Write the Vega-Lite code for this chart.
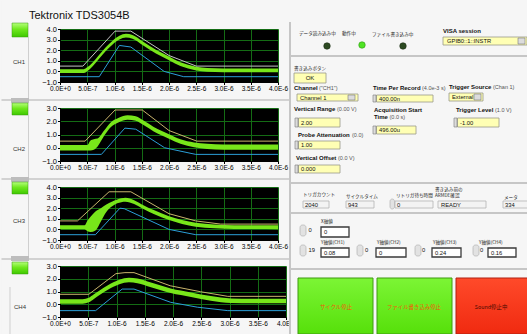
{
  "$schema": "https://vega.github.io/schema/vega-lite/v6.json",
  "background": "#f6f6f6",
  "padding": 0,
  "spacing": 26,
  "bounds": "flush",
  "config": {
    "view": {"stroke": null},
    "axis": {"labelFont": "Liberation Sans", "labelFontSize": 6.5, "labelColor": "#000000", "tickColor": "#000000", "tickSize": 2.5, "labelPadding": 1, "domainColor": "#000000", "gridColor": "#146c14", "gridOpacity": 1, "gridWidth": 1, "labelFlush": false, "labelOverlap": false, "grid": true},
    "axisY": {"labelFontSize": 7.5}
  },
  "datasets": {
    "traces": [
      {"ch":"CH1","s":"u","t":0,"v":0.5},{"ch":"CH1","s":"u","t":0.42,"v":0.5},{"ch":"CH1","s":"u","t":1.01,"v":3.8},{"ch":"CH1","s":"u","t":1.3,"v":3.8},{"ch":"CH1","s":"u","t":2.0,"v":1.5},{"ch":"CH1","s":"u","t":2.5,"v":0.5},{"ch":"CH1","s":"u","t":4,"v":0.5},
      {"ch":"CH1","s":"l","t":0,"v":-0.5},{"ch":"CH1","s":"l","t":0.72,"v":-0.5},{"ch":"CH1","s":"l","t":1.09,"v":2.45},{"ch":"CH1","s":"l","t":1.3,"v":2.3},{"ch":"CH1","s":"l","t":1.91,"v":0.0},{"ch":"CH1","s":"l","t":2.27,"v":-0.5},{"ch":"CH1","s":"l","t":4,"v":-0.5},
      {"ch":"CH1","s":"g","t":0,"v":-0.15,"v2":0.21},{"ch":"CH1","s":"g","t":0.44,"v":-0.15,"v2":0.21},{"ch":"CH1","s":"g","t":0.5,"v":0.02,"v2":0.38},{"ch":"CH1","s":"g","t":0.6,"v":0.49,"v2":0.85},{"ch":"CH1","s":"g","t":0.72,"v":1.21,"v2":1.57},{"ch":"CH1","s":"g","t":0.84,"v":1.93,"v2":2.29},{"ch":"CH1","s":"g","t":0.97,"v":2.56,"v2":2.92},{"ch":"CH1","s":"g","t":1.09,"v":3.0,"v2":3.36},{"ch":"CH1","s":"g","t":1.21,"v":3.19,"v2":3.55},{"ch":"CH1","s":"g","t":1.33,"v":3.07,"v2":3.43},{"ch":"CH1","s":"g","t":1.52,"v":2.47,"v2":2.83},{"ch":"CH1","s":"g","t":1.76,"v":1.68,"v2":2.04},{"ch":"CH1","s":"g","t":2.01,"v":1.02,"v2":1.38},{"ch":"CH1","s":"g","t":2.21,"v":0.5,"v2":0.86},{"ch":"CH1","s":"g","t":2.35,"v":0.27,"v2":0.63},{"ch":"CH1","s":"g","t":2.5,"v":0.09,"v2":0.45},{"ch":"CH1","s":"g","t":2.7,"v":-0.04,"v2":0.32},{"ch":"CH1","s":"g","t":3.0,"v":-0.08,"v2":0.28},{"ch":"CH1","s":"g","t":4.0,"v":-0.08,"v2":0.28},
      {"ch":"CH2","s":"u","t":0,"v":0.5},{"ch":"CH2","s":"u","t":0.46,"v":0.5},{"ch":"CH2","s":"u","t":1.01,"v":2.85},{"ch":"CH2","s":"u","t":1.51,"v":2.85},{"ch":"CH2","s":"u","t":2.0,"v":1.3},{"ch":"CH2","s":"u","t":2.51,"v":0.5},{"ch":"CH2","s":"u","t":4,"v":0.5},
      {"ch":"CH2","s":"l","t":0,"v":-0.5},{"ch":"CH2","s":"l","t":0.76,"v":-0.5},{"ch":"CH2","s":"l","t":1.19,"v":1.48},{"ch":"CH2","s":"l","t":1.39,"v":1.4},{"ch":"CH2","s":"l","t":1.92,"v":0.0},{"ch":"CH2","s":"l","t":2.49,"v":-0.5},{"ch":"CH2","s":"l","t":4,"v":-0.5},
      {"ch":"CH2","s":"g","t":0,"v":-0.2,"v2":0.2},{"ch":"CH2","s":"g","t":0.5,"v":-0.2,"v2":0.2},{"ch":"CH2","s":"g","t":0.56,"v":-0.2,"v2":0.55},{"ch":"CH2","s":"g","t":0.62,"v":-0.15,"v2":0.65},{"ch":"CH2","s":"g","t":0.69,"v":0.1,"v2":0.7},{"ch":"CH2","s":"g","t":0.81,"v":0.9,"v2":1.3},{"ch":"CH2","s":"g","t":0.93,"v":1.55,"v2":1.91},{"ch":"CH2","s":"g","t":1.08,"v":1.93,"v2":2.27},{"ch":"CH2","s":"g","t":1.24,"v":2.12,"v2":2.46},{"ch":"CH2","s":"g","t":1.39,"v":2.03,"v2":2.37},{"ch":"CH2","s":"g","t":1.54,"v":1.69,"v2":2.03},{"ch":"CH2","s":"g","t":1.72,"v":1.23,"v2":1.57},{"ch":"CH2","s":"g","t":2.0,"v":0.68,"v2":1.02},{"ch":"CH2","s":"g","t":2.21,"v":0.3,"v2":0.64},{"ch":"CH2","s":"g","t":2.46,"v":0.04,"v2":0.4},{"ch":"CH2","s":"g","t":2.7,"v":-0.1,"v2":0.3},{"ch":"CH2","s":"g","t":3.0,"v":-0.15,"v2":0.25},{"ch":"CH2","s":"g","t":4.0,"v":-0.15,"v2":0.25},
      {"ch":"CH3","s":"u","t":0,"v":0.8},{"ch":"CH3","s":"u","t":0.32,"v":0.8},{"ch":"CH3","s":"u","t":0.9,"v":3.55},{"ch":"CH3","s":"u","t":1.3,"v":3.55},{"ch":"CH3","s":"u","t":2.0,"v":1.48},{"ch":"CH3","s":"u","t":2.49,"v":0.8},{"ch":"CH3","s":"u","t":2.95,"v":0.5},{"ch":"CH3","s":"u","t":4,"v":0.5},
      {"ch":"CH3","s":"l","t":0,"v":-0.5},{"ch":"CH3","s":"l","t":0.65,"v":-0.5},{"ch":"CH3","s":"l","t":1.1,"v":2.0},{"ch":"CH3","s":"l","t":1.18,"v":1.95},{"ch":"CH3","s":"l","t":2.0,"v":0.0},{"ch":"CH3","s":"l","t":2.49,"v":-0.5},{"ch":"CH3","s":"l","t":4,"v":-0.5},
      {"ch":"CH3","s":"g","t":0,"v":0.02,"v2":0.38},{"ch":"CH3","s":"g","t":0.45,"v":0.02,"v2":0.38},{"ch":"CH3","s":"g","t":0.5,"v":-0.15,"v2":0.8},{"ch":"CH3","s":"g","t":0.56,"v":-0.25,"v2":1.2},{"ch":"CH3","s":"g","t":0.65,"v":-0.1,"v2":1.7},{"ch":"CH3","s":"g","t":0.75,"v":0.75,"v2":2.0},{"ch":"CH3","s":"g","t":0.85,"v":1.65,"v2":2.35},{"ch":"CH3","s":"g","t":0.95,"v":2.15,"v2":2.6},{"ch":"CH3","s":"g","t":1.05,"v":2.46,"v2":2.82},{"ch":"CH3","s":"g","t":1.2,"v":2.62,"v2":2.98},{"ch":"CH3","s":"g","t":1.36,"v":2.4,"v2":2.76},{"ch":"CH3","s":"g","t":1.54,"v":1.9,"v2":2.26},{"ch":"CH3","s":"g","t":1.72,"v":1.46,"v2":1.82},{"ch":"CH3","s":"g","t":2.0,"v":0.89,"v2":1.25},{"ch":"CH3","s":"g","t":2.24,"v":0.52,"v2":0.88},{"ch":"CH3","s":"g","t":2.49,"v":0.26,"v2":0.62},{"ch":"CH3","s":"g","t":2.83,"v":0.1,"v2":0.46},{"ch":"CH3","s":"g","t":3.2,"v":0.04,"v2":0.4},{"ch":"CH3","s":"g","t":4.0,"v":0.02,"v2":0.38},
      {"ch":"CH4","s":"u","t":0,"v":0.78},{"ch":"CH4","s":"u","t":0.51,"v":0.78},{"ch":"CH4","s":"u","t":0.99,"v":2.4},{"ch":"CH4","s":"u","t":1.15,"v":2.48},{"ch":"CH4","s":"u","t":1.31,"v":2.48},{"ch":"CH4","s":"u","t":1.95,"v":1.45},{"ch":"CH4","s":"u","t":2.49,"v":0.98},{"ch":"CH4","s":"u","t":2.97,"v":0.62},{"ch":"CH4","s":"u","t":4,"v":0.62},
      {"ch":"CH4","s":"l","t":0,"v":-0.5},{"ch":"CH4","s":"l","t":0.63,"v":-0.5},{"ch":"CH4","s":"l","t":1.1,"v":1.19},{"ch":"CH4","s":"l","t":1.31,"v":1.19},{"ch":"CH4","s":"l","t":1.96,"v":0.15},{"ch":"CH4","s":"l","t":2.43,"v":-0.23},{"ch":"CH4","s":"l","t":2.97,"v":-0.5},{"ch":"CH4","s":"l","t":4,"v":-0.5},
      {"ch":"CH4","s":"g","t":0,"v":0.04,"v2":0.4},{"ch":"CH4","s":"g","t":0.4,"v":0.04,"v2":0.4},{"ch":"CH4","s":"g","t":0.51,"v":0.15,"v2":0.51},{"ch":"CH4","s":"g","t":0.6,"v":0.42,"v2":0.78},{"ch":"CH4","s":"g","t":0.84,"v":1.12,"v2":1.48},{"ch":"CH4","s":"g","t":1.05,"v":1.57,"v2":1.93},{"ch":"CH4","s":"g","t":1.22,"v":1.72,"v2":2.08},{"ch":"CH4","s":"g","t":1.37,"v":1.65,"v2":2.01},{"ch":"CH4","s":"g","t":1.61,"v":1.34,"v2":1.7},{"ch":"CH4","s":"g","t":1.96,"v":0.88,"v2":1.24},{"ch":"CH4","s":"g","t":2.32,"v":0.57,"v2":0.93},{"ch":"CH4","s":"g","t":2.67,"v":0.28,"v2":0.64},{"ch":"CH4","s":"g","t":3.03,"v":0.1,"v2":0.46},{"ch":"CH4","s":"g","t":3.4,"v":0.07,"v2":0.43},{"ch":"CH4","s":"g","t":4.0,"v":0.07,"v2":0.43}
    ],
    "deco": [
      {"k":"bg","x":0.4,"x2":527,"y":0.4,"y2":334},
      {"k":"title","x":28,"y":18.5,"label":"Tektronix  TDS3054B"},
      {"k":"sep","x":0.5,"x2":289,"y":100,"y2":100},
      {"k":"sep","x":0.5,"x2":289,"y":179,"y2":179},
      {"k":"sep","x":0.5,"x2":289,"y":259,"y2":259},
      {"k":"tab","x":10,"x2":28,"y":98,"y2":103},
      {"k":"tab","x":10,"x2":28,"y":177,"y2":182},
      {"k":"tab","x":10,"x2":28,"y":256,"y2":261},
      {"k":"vline","x":27.5,"x2":27.5,"y":37,"y2":98},
      {"k":"vline","x":27.5,"x2":27.5,"y":115,"y2":177},
      {"k":"vline","x":27.5,"x2":27.5,"y":194,"y2":256},
      {"k":"vline","x":9,"x2":9,"y":287,"y2":334},
      {"k":"led","x":11,"x2":27,"y":23,"y2":37},
      {"k":"led","x":11,"x2":27,"y":103,"y2":115},
      {"k":"led","x":11,"x2":27,"y":182,"y2":194},
      {"k":"led","x":11,"x2":27,"y":262,"y2":274},
      {"k":"chlab","x":12,"y":62,"label":"CH1"},
      {"k":"chlab","x":12,"y":149,"label":"CH2"},
      {"k":"chlab","x":12,"y":221,"label":"CH3"},
      {"k":"chlab","x":13,"y":307,"label":"CH4"}
    ],
    "ui": [
      {"k":"pbg","x":288,"x2":527,"y":0.4,"y2":334},
      {"k":"sep","x":289,"x2":289,"y":22,"y2":334},
      {"k":"sep","x":289,"x2":527,"y":56,"y2":56},
      {"k":"sep","x":289,"x2":527,"y":183,"y2":183},
      {"k":"sep","x":289,"x2":527,"y":213,"y2":213},
      {"k":"sep","x":289,"x2":527,"y":269,"y2":269},
      {"k":"ybox","x":442,"x2":526,"y":37,"y2":45},
      {"k":"ybox","x":293,"x2":325,"y":73,"y2":83},
      {"k":"ybox","x":296,"x2":357,"y":94,"y2":101},
      {"k":"ybox","x":375.5,"x2":432,"y":95,"y2":102},
      {"k":"ybox","x":448,"x2":482,"y":93,"y2":101},
      {"k":"ybox","x":297.5,"x2":339,"y":118,"y2":127},
      {"k":"ybox","x":375.5,"x2":415,"y":126,"y2":134},
      {"k":"ybox","x":456.5,"x2":498,"y":118,"y2":127},
      {"k":"ybox","x":297.5,"x2":339,"y":141,"y2":149},
      {"k":"ybox","x":297.5,"x2":339,"y":165,"y2":173},
      {"k":"dd","x":517,"x2":524,"y":38,"y2":44},
      {"k":"dd","x":347,"x2":354,"y":95,"y2":100},
      {"k":"dd","x":473,"x2":480,"y":94,"y2":100},
      {"k":"dd","x":372,"x2":375,"y":95,"y2":102},
      {"k":"dd","x":294,"x2":297,"y":118,"y2":127},
      {"k":"dd","x":372,"x2":375,"y":126,"y2":134},
      {"k":"dd","x":453,"x2":456,"y":118,"y2":127},
      {"k":"dd","x":294,"x2":297,"y":141,"y2":149},
      {"k":"dd","x":294,"x2":297,"y":165,"y2":173},
      {"k":"gbox","x":302,"x2":328,"y":201,"y2":208},
      {"k":"gbox","x":345,"x2":373,"y":201,"y2":208},
      {"k":"gbox","x":394,"x2":432,"y":201,"y2":208},
      {"k":"gbox","x":437,"x2":485,"y":201,"y2":208},
      {"k":"gbox","x":502,"x2":526.5,"y":201,"y2":208},
      {"k":"spinr","x":389,"x2":393.5,"y":199,"y2":209},
      {"k":"spinr","x":299,"x2":305,"y":225,"y2":236},
      {"k":"spinr","x":299,"x2":305,"y":245,"y2":256},
      {"k":"spinr","x":356,"x2":362,"y":245,"y2":256},
      {"k":"spinr","x":414,"x2":420,"y":245,"y2":256},
      {"k":"spinr","x":472,"x2":478,"y":245,"y2":256},
      {"k":"wbox","x":320,"x2":348,"y":227,"y2":237},
      {"k":"wbox","x":320,"x2":348,"y":248,"y2":257},
      {"k":"wbox","x":375,"x2":405,"y":248,"y2":257},
      {"k":"wbox","x":431,"x2":460,"y":248,"y2":257},
      {"k":"wbox","x":487,"x2":515,"y":248,"y2":257},
      {"k":"gbtn","x":297,"x2":372,"y":278,"y2":334},
      {"k":"gbtn","x":376,"x2":451,"y":278,"y2":334},
      {"k":"rbtn","x":455,"x2":526.5,"y":278,"y2":334},
      {"k":"ledoff","x":326,"y":46},
      {"k":"ledon","x":361,"y":45},
      {"k":"ledoff","x":402,"y":46},
      {"k":"jp","x":298,"y":34,"label":"データ読み込み中"},
      {"k":"jp","x":341,"y":34,"label":"動作中"},
      {"k":"jp","x":371,"y":35,"label":"ファイル書き込み中"},
      {"k":"jp","x":293,"y":69,"label":"書き込みボタン"},
      {"k":"jp","x":302,"y":195,"label":"トリガカウント"},
      {"k":"jp","x":345,"y":197,"label":"サイクルタイム"},
      {"k":"jp","x":395,"y":196,"label":"リトリガ待ち時間"},
      {"k":"jp","x":434,"y":189.5,"label":"書き込み前の"},
      {"k":"jp","x":434,"y":195.5,"label":"ARMDE確認"},
      {"k":"jp","x":503,"y":198,"label":"メータ"},
      {"k":"jp","x":320,"y":222,"label":"X軸値"},
      {"k":"jp","x":320,"y":243,"label":"Y軸値(CH1)"},
      {"k":"jp","x":376,"y":243,"label":"Y軸値(CH2)"},
      {"k":"jp","x":432,"y":243,"label":"Y軸値(CH3)"},
      {"k":"jp","x":478,"y":243,"label":"Y軸値(CH4)"},
      {"k":"bold","x":442,"y":31,"label":"VISA session"},
      {"k":"bold","x":293,"y":88,"label":"Channel"},
      {"k":"bold","x":372,"y":88,"label":"Time Per Record"},
      {"k":"bold","x":448,"y":87,"label":"Trigger Source"},
      {"k":"bold","x":293,"y":109,"label":"Vertical Range"},
      {"k":"bold","x":373,"y":109.5,"label":"Acquisition Start"},
      {"k":"bold","x":373,"y":117,"label":"Time"},
      {"k":"bold","x":455,"y":110,"label":"Trigger Level"},
      {"k":"bold","x":297,"y":135,"label":"Probe Attenuation"},
      {"k":"bold","x":295,"y":158,"label":"Vertical Offset"},
      {"k":"sfx","x":318,"y":88,"label":"(\"CH1\")"},
      {"k":"sfx","x":421,"y":88,"label":"(4.0e-3 s)"},
      {"k":"sfx","x":492,"y":87,"label":"(Chan 1)"},
      {"k":"sfx","x":336,"y":109,"label":"(0.00 V)"},
      {"k":"sfx","x":388.5,"y":117,"label":"(0.0 s)"},
      {"k":"sfx","x":494,"y":110,"label":"(1.0 V)"},
      {"k":"sfx","x":351,"y":135,"label":"(0.0)"},
      {"k":"sfx","x":337,"y":158,"label":"(0.0 V)"},
      {"k":"txt","x":446,"y":41,"label":"GPIB0::1::INSTR"},
      {"k":"txt","x":299,"y":97.5,"label":"Channel 1"},
      {"k":"txt","x":378,"y":98.5,"label":"400.00n"},
      {"k":"txt","x":451,"y":97,"label":"External"},
      {"k":"txt","x":300,"y":122.5,"label":"2.00"},
      {"k":"txt","x":378,"y":130,"label":"496.00u"},
      {"k":"txt","x":459,"y":122.5,"label":"-1.00"},
      {"k":"txt","x":300,"y":145,"label":"1.00"},
      {"k":"txt","x":300,"y":169,"label":"0.000"},
      {"k":"txt","x":304,"y":204.5,"label":"2040"},
      {"k":"txt","x":347,"y":204.5,"label":"943"},
      {"k":"txt","x":396,"y":204.5,"label":"0"},
      {"k":"txt","x":440,"y":204.5,"label":"READY"},
      {"k":"txt","x":504,"y":204.5,"label":"334"},
      {"k":"txt","x":307.5,"y":230,"label":"0"},
      {"k":"txt","x":307.5,"y":250,"label":"19"},
      {"k":"txt","x":364,"y":250,"label":"0"},
      {"k":"txt","x":421,"y":250,"label":"0"},
      {"k":"txt","x":479,"y":250,"label":"0"},
      {"k":"txt","x":323,"y":232,"label":"0"},
      {"k":"txt","x":323,"y":252.5,"label":"0.08"},
      {"k":"txt","x":378,"y":252.5,"label":"0"},
      {"k":"txt","x":434,"y":252.5,"label":"0.24"},
      {"k":"txt","x":490,"y":252.5,"label":"0.16"},
      {"k":"ctext","x":309,"y":78,"label":"OK"},
      {"k":"btxt","x":335,"y":307,"label":"サイクル停止"},
      {"k":"btxt","x":413,"y":307,"label":"ファイル書き込み停止"},
      {"k":"rtxt","x":490,"y":307,"label":"Sound停止中"}
    ]
  },
  "vconcat": [
    {
      "width": 218, "height": 3,
      "data": {"name": "deco"},
      "encoding": {
        "x": {"field": "x", "type": "quantitative", "scale": {"domain": [59, 277], "nice": false, "zero": false}, "axis": null},
        "y": {"field": "y", "type": "quantitative", "scale": {"domain": [0, 3], "nice": false, "zero": false, "reverse": true}, "axis": null}
      },
      "layer": [
        {"transform": [{"filter": "datum.k === 'bg'"}], "mark": {"type": "rect", "color": "#f6f6f6"}, "encoding": {"x2": {"field": "x2"}, "y2": {"field": "y2"}}},
        {"transform": [{"filter": "datum.k === 'sep'"}], "mark": {"type": "rule", "color": "#d2d2d2", "strokeWidth": 2}, "encoding": {"x2": {"field": "x2"}, "y2": {"field": "y2"}}},
        {"transform": [{"filter": "datum.k === 'vline'"}], "mark": {"type": "rule", "color": "#cfcfcf", "strokeWidth": 1}, "encoding": {"x2": {"field": "x2"}, "y2": {"field": "y2"}}},
        {"transform": [{"filter": "datum.k === 'tab'"}], "mark": {"type": "rect", "color": "#bdbdbd"}, "encoding": {"x2": {"field": "x2"}, "y2": {"field": "y2"}}},
        {"transform": [{"filter": "datum.k === 'led'"}], "mark": {"type": "rect", "stroke": "#3a9a10", "strokeWidth": 0.5, "color": {"gradient": "linear", "x1": 0, "y1": 0, "x2": 0, "y2": 1, "stops": [{"offset": 0, "color": "#b4ff7a"}, {"offset": 0.45, "color": "#6fe81e"}, {"offset": 1, "color": "#3ec800"}]}}, "encoding": {"x2": {"field": "x2"}, "y2": {"field": "y2"}}},
        {"transform": [{"filter": "datum.k === 'chlab'"}], "mark": {"type": "text", "align": "left", "baseline": "middle", "font": "Liberation Sans", "fontSize": 6, "color": "#333333"}, "encoding": {"text": {"field": "label"}}},
        {"transform": [{"filter": "datum.k === 'title'"}], "mark": {"type": "text", "align": "left", "baseline": "alphabetic", "font": "Liberation Sans", "fontSize": 11, "color": "#111111"}, "encoding": {"text": {"field": "label"}}}
      ]
    },
    {
      "width": 218, "height": 53,
      "view": {"fill": "#000000", "stroke": null},
      "data": {"name": "traces"},
      "transform": [{"filter": "datum.ch === 'CH1'"}],
      "encoding": {
        "x": {"field": "t", "type": "quantitative", "scale": {"domain": [0, 4], "nice": false, "zero": false}, "axis": {"title": null, "values": [0, 0.5, 1, 1.5, 2, 2.5, 3, 3.5, 4], "labelExpr": "replace(format(datum.value * 1e-6, '.1e'), 'e', 'E')"}},
        "y": {"field": "v", "type": "quantitative", "stack": null, "scale": {"domain": [-1, 4], "nice": false, "zero": false}, "axis": {"title": null, "values": [-1, 0, 1, 2, 3, 4], "format": ".1f"}}
      },
      "layer": [
        {"transform": [{"filter": "datum.s === 'g'"}], "mark": {"type": "area", "color": "#78e61a", "interpolate": "monotone"}, "encoding": {"y2": {"field": "v2"}}},
        {"transform": [{"filter": "datum.s === 'u'"}], "mark": {"type": "line", "color": "#c4c4c4", "strokeWidth": 1}, "encoding": {}},
        {"transform": [{"filter": "datum.s === 'l'"}], "mark": {"type": "line", "color": "#2b9fd8", "strokeWidth": 1}, "encoding": {}}
      ]
    },
    {
      "width": 218, "height": 53,
      "view": {"fill": "#000000", "stroke": null},
      "data": {"name": "traces"},
      "transform": [{"filter": "datum.ch === 'CH2'"}],
      "encoding": {
        "x": {"field": "t", "type": "quantitative", "scale": {"domain": [0, 4], "nice": false, "zero": false}, "axis": {"title": null, "values": [0, 0.5, 1, 1.5, 2, 2.5, 3, 3.5, 4], "labelExpr": "replace(format(datum.value * 1e-6, '.1e'), 'e', 'E')"}},
        "y": {"field": "v", "type": "quantitative", "stack": null, "scale": {"domain": [-1, 3], "nice": false, "zero": false}, "axis": {"title": null, "values": [-1, 0, 1, 2, 3], "format": ".1f"}}
      },
      "layer": [
        {"transform": [{"filter": "datum.s === 'g'"}], "mark": {"type": "area", "color": "#78e61a", "interpolate": "monotone"}, "encoding": {"y2": {"field": "v2"}}},
        {"transform": [{"filter": "datum.s === 'u'"}], "mark": {"type": "line", "color": "#c8b46c", "strokeWidth": 1}, "encoding": {}},
        {"transform": [{"filter": "datum.s === 'l'"}], "mark": {"type": "line", "color": "#2b9fd8", "strokeWidth": 1}, "encoding": {}}
      ]
    },
    {
      "width": 218, "height": 53,
      "view": {"fill": "#000000", "stroke": null},
      "data": {"name": "traces"},
      "transform": [{"filter": "datum.ch === 'CH3'"}],
      "encoding": {
        "x": {"field": "t", "type": "quantitative", "scale": {"domain": [0, 4], "nice": false, "zero": false}, "axis": {"title": null, "values": [0, 0.5, 1, 1.5, 2, 2.5, 3, 3.5, 4], "labelExpr": "replace(format(datum.value * 1e-6, '.1e'), 'e', 'E')"}},
        "y": {"field": "v", "type": "quantitative", "stack": null, "scale": {"domain": [-1, 4], "nice": false, "zero": false}, "axis": {"title": null, "values": [-1, 0, 1, 2, 3, 4], "format": ".1f"}}
      },
      "layer": [
        {"transform": [{"filter": "datum.s === 'g'"}], "mark": {"type": "area", "color": "#78e61a", "interpolate": "monotone"}, "encoding": {"y2": {"field": "v2"}}},
        {"transform": [{"filter": "datum.s === 'u'"}], "mark": {"type": "line", "color": "#c8b46c", "strokeWidth": 1}, "encoding": {}},
        {"transform": [{"filter": "datum.s === 'l'"}], "mark": {"type": "line", "color": "#2b9fd8", "strokeWidth": 1}, "encoding": {}}
      ]
    },
    {
      "width": 226, "height": 51,
      "view": {"fill": "#000000", "stroke": null},
      "layer": [
        {
          "data": {"name": "traces"},
          "transform": [{"filter": "datum.ch === 'CH4'"}],
          "encoding": {
            "x": {"field": "t", "type": "quantitative", "scale": {"domain": [0, 4], "nice": false, "zero": false}, "axis": {"title": null, "values": [0, 0.5, 1, 1.5, 2, 2.5, 3, 3.5, 4], "labelExpr": "replace(format(datum.value * 1e-6, '.1e'), 'e', 'E')"}},
            "y": {"field": "v", "type": "quantitative", "stack": null, "scale": {"domain": [-1, 3], "nice": false, "zero": false}, "axis": {"title": null, "values": [-1, 0, 1, 2, 3], "format": ".1f"}}
          },
          "layer": [
            {"transform": [{"filter": "datum.s === 'g'"}], "mark": {"type": "area", "color": "#78e61a", "interpolate": "monotone"}, "encoding": {"y2": {"field": "v2"}}},
            {"transform": [{"filter": "datum.s === 'u'"}], "mark": {"type": "line", "color": "#c8b46c", "strokeWidth": 1}, "encoding": {}},
            {"transform": [{"filter": "datum.s === 'l'"}], "mark": {"type": "line", "color": "#2b9fd8", "strokeWidth": 1}, "encoding": {}}
          ]
        },
        {
          "data": {"name": "ui"},
          "encoding": {
            "x": {"field": "x", "type": "quantitative", "scale": {"domain": [59, 285], "nice": false, "zero": false}, "axis": null},
            "y": {"field": "y", "type": "quantitative", "scale": {"domain": [266, 317], "nice": false, "zero": false, "reverse": true}, "axis": null}
          },
          "layer": [
            {"transform": [{"filter": "datum.k === 'pbg'"}], "mark": {"type": "rect", "color": "#f6f6f6"}, "encoding": {"x2": {"field": "x2"}, "y2": {"field": "y2"}}},
            {"transform": [{"filter": "datum.k === 'sep'"}], "mark": {"type": "rule", "color": "#c6c6c6", "strokeWidth": 2}, "encoding": {"x2": {"field": "x2"}, "y2": {"field": "y2"}}},
            {"transform": [{"filter": "datum.k === 'ybox'"}], "mark": {"type": "rect", "fill": "#ffffb4", "stroke": "#9a9a8a", "strokeWidth": 0.8}, "encoding": {"x2": {"field": "x2"}, "y2": {"field": "y2"}}},
            {"transform": [{"filter": "datum.k === 'dd'"}], "mark": {"type": "rect", "fill": "#dcdcdc", "stroke": "#7a7a7a", "strokeWidth": 0.6}, "encoding": {"x2": {"field": "x2"}, "y2": {"field": "y2"}}},
            {"transform": [{"filter": "datum.k === 'gbox'"}], "mark": {"type": "rect", "fill": "#f3f3f3", "stroke": "#b4b4b4", "strokeWidth": 0.8}, "encoding": {"x2": {"field": "x2"}, "y2": {"field": "y2"}}},
            {"transform": [{"filter": "datum.k === 'spinr'"}], "mark": {"type": "rect", "fill": "#e2e2e2", "stroke": "#a8a8a8", "strokeWidth": 0.6, "cornerRadius": 2.5}, "encoding": {"x2": {"field": "x2"}, "y2": {"field": "y2"}}},
            {"transform": [{"filter": "datum.k === 'wbox'"}], "mark": {"type": "rect", "fill": "#ffffff", "stroke": "#3a3a3a", "strokeWidth": 1.3}, "encoding": {"x2": {"field": "x2"}, "y2": {"field": "y2"}}},
            {"transform": [{"filter": "datum.k === 'gbtn'"}], "mark": {"type": "rect", "stroke": "#3f9a10", "strokeWidth": 1, "color": {"gradient": "linear", "x1": 0, "y1": 0, "x2": 0, "y2": 1, "stops": [{"offset": 0, "color": "#7cf535"}, {"offset": 1, "color": "#56e00a"}]}}, "encoding": {"x2": {"field": "x2"}, "y2": {"field": "y2"}}},
            {"transform": [{"filter": "datum.k === 'rbtn'"}], "mark": {"type": "rect", "stroke": "#b02010", "strokeWidth": 1, "color": {"gradient": "linear", "x1": 0, "y1": 0, "x2": 0, "y2": 1, "stops": [{"offset": 0, "color": "#ff4a2a"}, {"offset": 1, "color": "#f02a10"}]}}, "encoding": {"x2": {"field": "x2"}, "y2": {"field": "y2"}}},
            {"transform": [{"filter": "datum.k === 'ledoff'"}], "mark": {"type": "circle", "size": 42, "color": "#2c4a22", "opacity": 1, "stroke": "#1c2e16", "strokeWidth": 0.6}, "encoding": {}},
            {"transform": [{"filter": "datum.k === 'ledon'"}], "mark": {"type": "circle", "size": 42, "color": "#4fe324", "opacity": 1, "stroke": "#2f9a14", "strokeWidth": 0.6}, "encoding": {}},
            {"transform": [{"filter": "datum.k === 'jp'"}], "mark": {"type": "text", "align": "left", "baseline": "middle", "font": "Noto Sans CJK JP", "fontSize": 4.6, "color": "#222222"}, "encoding": {"text": {"field": "label"}}},
            {"transform": [{"filter": "datum.k === 'bold'"}], "mark": {"type": "text", "align": "left", "baseline": "middle", "font": "Liberation Sans", "fontSize": 6, "fontWeight": "bold", "color": "#111111"}, "encoding": {"text": {"field": "label"}}},
            {"transform": [{"filter": "datum.k === 'sfx'"}], "mark": {"type": "text", "align": "left", "baseline": "middle", "font": "Liberation Sans", "fontSize": 5.5, "color": "#555555"}, "encoding": {"text": {"field": "label"}}},
            {"transform": [{"filter": "datum.k === 'txt'"}], "mark": {"type": "text", "align": "left", "baseline": "middle", "font": "Liberation Sans", "fontSize": 5.8, "color": "#111111"}, "encoding": {"text": {"field": "label"}}},
            {"transform": [{"filter": "datum.k === 'ctext'"}], "mark": {"type": "text", "align": "center", "baseline": "middle", "font": "Liberation Sans", "fontSize": 6, "color": "#111111"}, "encoding": {"text": {"field": "label"}}},
            {"transform": [{"filter": "datum.k === 'btxt'"}], "mark": {"type": "text", "align": "center", "baseline": "middle", "font": "Noto Sans CJK JP", "fontSize": 5.4, "color": "#f05a0a"}, "encoding": {"text": {"field": "label"}}},
            {"transform": [{"filter": "datum.k === 'rtxt'"}], "mark": {"type": "text", "align": "center", "baseline": "middle", "font": "Noto Sans CJK JP", "fontSize": 5.4, "color": "#4a0a00"}, "encoding": {"text": {"field": "label"}}}
          ]
        }
      ],
      "resolve": {"scale": {"x": "independent", "y": "independent"}}
    }
  ]
}
